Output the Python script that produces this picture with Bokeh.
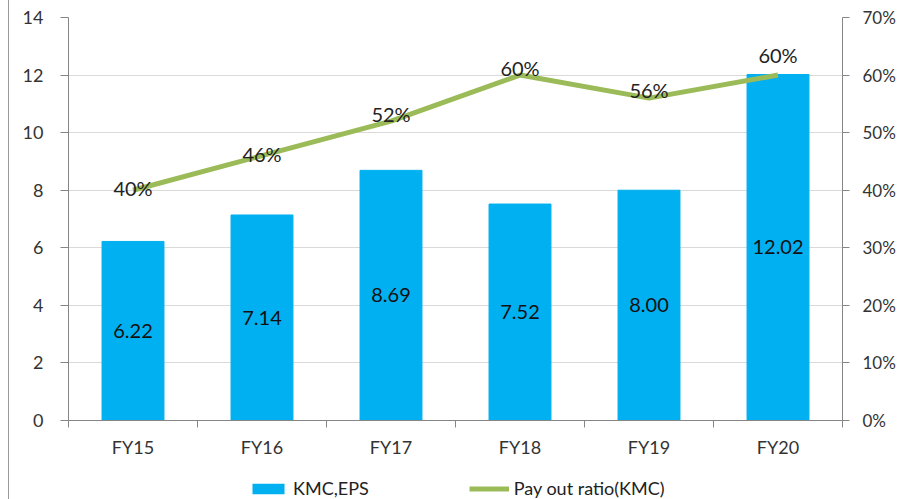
from bokeh.plotting import figure
from bokeh.layouts import column
from bokeh.models import (ColumnDataSource, LinearAxis, Range1d, FixedTicker,
                          NumeralTickFormatter, Legend, LegendItem)
from bokeh.core.properties import value
from bokeh.embed import file_html
from bokeh.resources import INLINE

categories = ["FY15", "FY16", "FY17", "FY18", "FY19", "FY20"]
eps = [6.22, 7.14, 8.69, 7.52, 8.00, 12.02]
eps_labels = ["6.22", "7.14", "8.69", "7.52", "8.00", "12.02"]
payout = [0.40, 0.46, 0.52, 0.60, 0.56, 0.60]
payout_labels = ["40%", "46%", "52%", "60%", "56%", "60%"]
left_ticks = [0, 2, 4, 6, 8, 10, 12, 14]
right_ticks = [0, 0.1, 0.2, 0.3, 0.4, 0.5, 0.6, 0.7]

# styling
payout_label_dy = [-2, -2, -7, -7, -8, -20]
FONT = "Lato"
BAR = "#00B0F0"
LINE = "#9BBB59"
AXIS = "#868686"
TXT = "#333333"
PAGE_STYLE = {"margin-left": "8px", "border-left": "1px solid #9a9a9a"}

idx = list(range(len(categories)))
src = ColumnDataSource(dict(
    x=idx, eps=eps, mid=[v / 2 for v in eps], eps_lab=eps_labels,
    pay=payout, pay_lab=payout_labels, dy=payout_label_dy))

p = figure(frame_width=773, frame_height=403,
           x_range=Range1d(-0.5, len(categories) - 0.5),
           y_range=Range1d(0, 14),
           output_backend="svg", toolbar_location=None,
           min_border_left=59, min_border_right=59,
           min_border_top=17, min_border_bottom=54)
p.extra_y_ranges = {"pct": Range1d(0, 0.7)}
p.outline_line_color = None
p.background_fill_color = "white"
p.border_fill_color = "white"
p.styles = PAGE_STYLE

# grid
p.xgrid.grid_line_color = None
p.ygrid.ticker = FixedTicker(ticks=left_ticks)
p.ygrid.grid_line_color = "#D9D9D9"
p.ygrid.grid_line_width = 1

# x axis
xa = p.xaxis[0]
xa.ticker = FixedTicker(ticks=idx, minor_ticks=[i - 0.5 for i in range(len(categories) + 1)])
xa.major_label_overrides = {i: c for i, c in zip(idx, categories)}
xa.major_tick_line_color = None
xa.major_tick_out = 7
xa.major_tick_in = 0
xa.minor_tick_line_color = AXIS
xa.minor_tick_out = 7
xa.minor_tick_in = 0
xa.axis_line_color = AXIS
xa.major_label_standoff = 8
xa.major_label_text_font = FONT
xa.major_label_text_font_size = "18px"
xa.major_label_text_color = TXT

# left axis
ya = p.yaxis[0]
ya.ticker = FixedTicker(ticks=left_ticks)
ya.axis_line_color = AXIS
ya.major_tick_line_color = AXIS
ya.major_tick_out = 8
ya.major_tick_in = 0
ya.minor_tick_line_color = None
ya.major_label_standoff = 17
ya.major_label_text_font = FONT
ya.major_label_text_font_size = "18px"
ya.major_label_text_color = TXT

# right axis
ra = LinearAxis(y_range_name="pct", ticker=FixedTicker(ticks=right_ticks),
                formatter=NumeralTickFormatter(format="0%"))
ra.axis_line_color = AXIS
ra.major_tick_line_color = AXIS
ra.major_tick_out = 7
ra.major_tick_in = 0
ra.minor_tick_line_color = None
ra.major_label_standoff = 13
ra.major_label_text_font = FONT
ra.major_label_text_font_size = "17px"
ra.major_label_text_color = TXT
p.add_layout(ra, "right")

bars = p.vbar(x="x", top="eps", width=0.48, source=src,
              fill_color=BAR, line_color=BAR)
line = p.line(x="x", y="pay", source=src, y_range_name="pct",
              line_color=LINE, line_width=5)

p.text(x="x", y="mid", text="eps_lab", source=src,
       text_align="center", text_baseline="middle",
       text_font=value(FONT), text_font_size="20px", text_color="#111111")
p.text(x="x", y="pay", text="pay_lab", source=src, y_range_name="pct",
       y_offset="dy", text_align="center", text_baseline="middle",
       text_font=value(FONT), text_font_size="20px", text_color="#222222")

# legend strip below the chart (zero-size proxy glyphs carry the legend keys)
lg = figure(width=891, height=25, x_range=Range1d(0, 1), y_range=Range1d(0, 1),
            output_backend="svg", toolbar_location=None,
            x_axis_location=None, y_axis_location=None,
            min_border_left=0, min_border_right=0,
            min_border_top=0, min_border_bottom=0)
lg.outline_line_color = None
lg.grid.visible = False
lg.border_fill_color = "white"
lg.styles = PAGE_STYLE
bar_key = lg.vbar(x=[0.5], top=[0], bottom=[0], width=0.1,
                  fill_color=BAR, line_color=None)
line_key = lg.line(x=[0.5], y=[0.5], line_color=LINE, line_width=5)

legend = Legend(items=[LegendItem(label="KMC,EPS", renderers=[bar_key]),
                       LegendItem(label="Pay out ratio(KMC)", renderers=[line_key])],
                orientation="horizontal", location=(180, 0),
                border_line_color=None, background_fill_alpha=0,
                label_text_font=FONT, label_text_font_size="18px",
                label_text_color="#222222",
                glyph_width=40, glyph_height=13, spacing=100,
                label_standoff=5, padding=0, margin=0)
lg.add_layout(legend, "center")

layout = column(p, lg, spacing=0)
open("out.html", "w").write(file_html(layout, INLINE))
